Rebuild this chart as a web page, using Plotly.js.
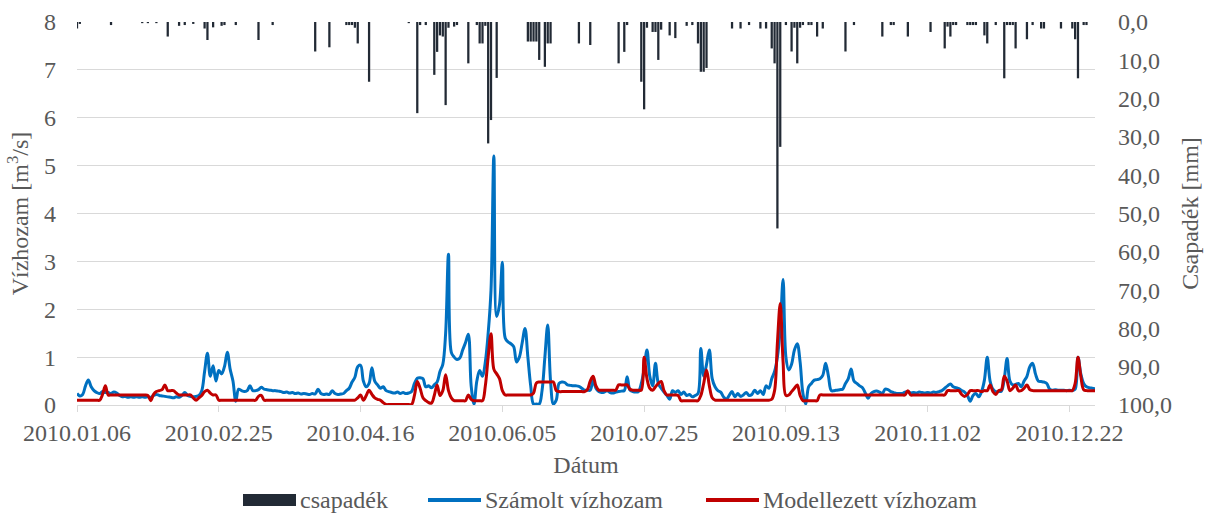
<!DOCTYPE html>
<html>
<head>
<meta charset="utf-8">
<script src="https://cdn.plot.ly/plotly-3.0.1.min.js"></script>
<style>
  html, body { margin: 0; padding: 0; background: #ffffff; font-family: 'Liberation Serif', serif; }
  #chart { width: 1210px; height: 513px; }
  #chart svg text { font-family: 'Liberation Serif', serif !important; }
</style>
</head>
<body>
<div id="chart"></div>
<script>
// Daily series, first day 2010.01.06, one value per day
const startDate = '2010-01-06';

// Csapadék [mm] (right axis, hanging bars)
const csapadek = [
  1.7,0.5,0,0,0,0,0,0,0,0,
  0,0,0.8,0,0,0,0,0,0,0,
  0,0,0,0.3,0,0.3,0,0,0.3,0,
  0,0,3.8,0,0,0,1.0,0,0.8,0,
  0,0.5,0,0,0,1.7,4.7,0,1.4,0,
  0,1.0,0.8,0,0,0,0.8,0,0,0,
  0,0,0,0,4.7,0,0,0,0,0.8,
  0,0,0,0,0,0,0,0,0,0,
  0,0,0,0,7.7,0,0,0,0,6.6,
  0,0,0,0,0,0.8,0.8,0.8,1.5,5.6,
  0,0,0,15.6,0,0,0,0,0,0,
  0,0,0,0,0,0,0,0.3,0,0,
  23.8,0.8,0,0.8,0,0,13.8,7.8,3.5,3.8,
  21.7,1.5,0,1.2,0.8,0,0,0,10.8,0,
  0,0.8,5.6,5.6,1.0,31.7,25.6,0,14.6,0,
  0,0,0,0,0,0,0,0,0,5.1,
  5.1,5.1,5.1,9.9,0,11.7,5.6,5.6,0,0,
  0,0,0,0,0,0,0,5.6,0,0,
  0,6.0,0,0,0,0,0,0,0,0,
  0,10.8,0,7.8,0.8,0,0,0,0,15.6,
  22.8,1.5,0,2.6,2.6,9.9,2.0,0,0,3.5,
  0,4.2,0,0,0,1.0,0,0.8,0,5.6,
  13.0,13.0,12.0,0,0,0,0,0,0,0,
  0,1.7,0,0,1.7,0,0,0.8,0,0,
  0,1.7,0,1.7,0,6.9,10.8,53.9,32.6,0,
  0.8,0,7.7,1.5,10.8,1.5,0.8,0,0.8,0.8,
  0,3.8,0,1.7,0,0,0,0,0,0,
  0,7.7,0,0,0.8,0,0,0,0,0,
  0,0,0,0,3.8,0,0,0.8,0.8,0,
  0,0,0,3.8,0,0,0,0,0,0,
  0,2.6,0,0,0,0,6.9,1.2,3.8,0.8,
  0.8,0,0,0,0.8,0.8,0.8,0.8,0,0,
  3.5,5.6,0,0,0.8,0,0,14.7,0.8,0.8,
  0.8,6.9,0,0,0,4.5,0,0.8,0,0,
  1.7,1.7,0,0,0,0,0,1.7,0,0,
  0,1.7,4.5,14.7,0,0.8,0.8,0,0,0
];

// Számolt vízhozam [m3/s]
const szamolt = [
  0.24,0.19,0.22,0.40,0.52,0.38,0.30,0.26,0.24,0.28,
  0.26,0.26,0.24,0.27,0.25,0.20,0.17,0.18,0.16,0.17,
  0.16,0.17,0.16,0.17,0.16,0.17,0.16,0.20,0.22,0.20,
  0.19,0.18,0.17,0.16,0.15,0.17,0.16,0.20,0.26,0.20,
  0.18,0.17,0.18,0.20,0.30,0.70,1.08,0.60,0.82,0.50,
  0.72,0.65,0.80,1.10,0.75,0.50,0.08,0.33,0.30,0.28,
  0.30,0.40,0.30,0.30,0.32,0.37,0.33,0.32,0.31,0.30,
  0.30,0.29,0.28,0.26,0.27,0.25,0.26,0.24,0.25,0.23,
  0.24,0.23,0.22,0.24,0.23,0.33,0.24,0.22,0.23,0.22,
  0.30,0.24,0.22,0.23,0.24,0.30,0.35,0.48,0.58,0.80,
  0.83,0.50,0.38,0.45,0.78,0.50,0.42,0.35,0.38,0.30,
  0.28,0.26,0.25,0.27,0.24,0.26,0.24,0.25,0.28,0.45,
  0.56,0.57,0.55,0.38,0.40,0.36,0.42,0.48,0.70,0.85,
  1.50,3.15,1.10,1.00,0.95,0.98,1.15,1.30,1.48,0.40,
  0.02,0.50,0.72,0.60,0.90,1.50,2.40,5.20,1.85,2.10,
  2.98,1.40,1.32,1.28,1.22,0.90,1.00,1.30,1.60,1.00,
  0.40,0.02,0.02,0.02,0.30,1.00,1.67,0.50,0.02,0.10,
  0.45,0.48,0.47,0.42,0.41,0.40,0.40,0.39,0.35,0.31,
  0.31,0.31,0.52,0.35,0.28,0.26,0.27,0.30,0.26,0.25,
  0.27,0.28,0.29,0.30,0.59,0.31,0.28,0.27,0.28,0.45,
  0.75,1.15,0.60,0.40,0.87,0.45,0.35,0.27,0.20,0.12,
  0.30,0.26,0.30,0.22,0.27,0.20,0.22,0.17,0.20,0.24,
  1.18,0.60,0.85,1.15,0.55,0.38,0.30,0.27,0.17,0.12,
  0.20,0.28,0.17,0.24,0.18,0.21,0.26,0.20,0.22,0.31,
  0.24,0.30,0.22,0.40,0.35,0.55,0.70,1.00,1.60,2.62,
  1.00,0.73,0.85,1.15,1.28,0.90,0.24,0.02,0.38,0.45,
  0.52,0.53,0.55,0.62,0.87,0.60,0.30,0.30,0.31,0.32,
  0.33,0.45,0.55,0.75,0.50,0.45,0.40,0.36,0.25,0.14,
  0.24,0.28,0.29,0.27,0.24,0.33,0.32,0.28,0.26,0.24,
  0.24,0.24,0.27,0.28,0.25,0.26,0.25,0.27,0.26,0.25,
  0.26,0.25,0.27,0.26,0.28,0.30,0.35,0.40,0.44,0.38,
  0.36,0.34,0.30,0.27,0.20,0.08,0.20,0.24,0.17,0.28,
  0.52,1.00,0.50,0.33,0.28,0.28,0.29,0.55,0.97,0.50,
  0.42,0.43,0.45,0.38,0.50,0.60,0.80,0.87,0.65,0.50,
  0.49,0.48,0.45,0.33,0.31,0.32,0.31,0.31,0.31,0.30,
  0.31,0.30,0.33,1.00,0.65,0.45,0.38,0.36,0.35,0.34
];

// Modellezett vízhozam [m3/s]
const modellezett = [
  0.10,0.10,0.10,0.10,0.10,0.10,0.10,0.10,0.10,0.22,
  0.40,0.21,0.21,0.21,0.21,0.21,0.21,0.21,0.21,0.21,
  0.21,0.21,0.21,0.21,0.21,0.20,0.09,0.22,0.28,0.30,
  0.32,0.42,0.30,0.30,0.30,0.25,0.21,0.21,0.21,0.21,
  0.21,0.15,0.10,0.15,0.20,0.28,0.31,0.25,0.21,0.21,
  0.10,0.10,0.10,0.10,0.10,0.10,0.10,0.10,0.10,0.10,
  0.10,0.10,0.10,0.10,0.18,0.20,0.10,0.10,0.10,0.10,
  0.10,0.10,0.10,0.10,0.10,0.10,0.10,0.10,0.10,0.10,
  0.10,0.10,0.10,0.10,0.10,0.10,0.10,0.10,0.10,0.10,
  0.10,0.10,0.10,0.10,0.10,0.10,0.10,0.10,0.10,0.15,
  0.21,0.10,0.20,0.31,0.22,0.15,0.12,0.10,0.05,0.01,
  0.01,0.01,0.01,0.01,0.01,0.01,0.01,0.01,0.01,0.20,
  0.49,0.35,0.15,0.09,0.05,0.04,0.20,0.42,0.20,0.30,
  0.63,0.30,0.15,0.09,0.09,0.09,0.09,0.09,0.21,0.12,
  0.09,0.09,0.09,0.09,0.40,1.00,1.49,0.75,0.65,0.55,
  0.30,0.21,0.21,0.21,0.21,0.21,0.21,0.21,0.21,0.21,
  0.21,0.25,0.46,0.48,0.48,0.48,0.48,0.48,0.48,0.30,
  0.28,0.28,0.28,0.28,0.28,0.28,0.28,0.28,0.28,0.28,
  0.32,0.50,0.60,0.40,0.31,0.31,0.31,0.31,0.31,0.31,
  0.31,0.42,0.42,0.42,0.42,0.33,0.31,0.31,0.31,0.31,
  1.00,0.55,0.35,0.31,0.38,0.45,0.49,0.30,0.21,0.21,
  0.21,0.21,0.20,0.09,0.09,0.09,0.09,0.09,0.09,0.09,
  0.20,0.45,0.73,0.40,0.15,0.10,0.10,0.10,0.10,0.10,
  0.10,0.10,0.10,0.10,0.10,0.10,0.10,0.10,0.10,0.10,
  0.10,0.10,0.10,0.10,0.10,0.12,0.30,1.30,2.12,0.90,
  0.20,0.21,0.28,0.35,0.42,0.20,0.09,0.09,0.09,0.09,
  0.09,0.09,0.21,0.21,0.21,0.21,0.21,0.21,0.21,0.21,
  0.21,0.21,0.21,0.21,0.21,0.21,0.21,0.21,0.21,0.21,
  0.21,0.21,0.21,0.21,0.21,0.21,0.21,0.21,0.21,0.21,
  0.21,0.21,0.21,0.30,0.21,0.21,0.21,0.21,0.21,0.21,
  0.21,0.21,0.21,0.21,0.21,0.21,0.21,0.30,0.30,0.30,
  0.30,0.30,0.22,0.18,0.22,0.30,0.30,0.30,0.30,0.28,
  0.30,0.30,0.42,0.28,0.22,0.30,0.32,0.60,0.50,0.30,
  0.35,0.42,0.30,0.30,0.35,0.42,0.32,0.30,0.30,0.30,
  0.30,0.30,0.30,0.30,0.30,0.30,0.30,0.30,0.30,0.30,
  0.30,0.30,0.45,1.00,0.60,0.32,0.30,0.30,0.30,0.30
];

// Legend labels
const seriesNames = ['csapadék', 'Számolt vízhozam', 'Modellezett vízhozam'];
const seriesColors = ['#222a35', '#0070c0', '#c00000'];

// Calendar days for the x axis
const days = [];
(function () {
  const t0 = Date.parse(startDate + 'T00:00:00Z');
  for (let i = 0; i < szamolt.length; i++) {
    const d = new Date(t0 + i * 86400000);
    days.push(d.toISOString().slice(0, 10));
  }
})();

const FONT = 'Liberation Serif';
const GREY = '#595959';
const GRID = '#d9d9d9';

const traces = [
  {
    type: 'bar', name: seriesNames[0], x: days, y: csapadek,
    yaxis: 'y2', marker: { color: seriesColors[0], line: { width: 0 } },
    hoverinfo: 'skip'
  },
  {
    type: 'scatter', mode: 'lines', name: seriesNames[1], x: days, y: szamolt,
    line: { color: seriesColors[1], width: 3, shape: 'spline', smoothing: 1 },
    hoverinfo: 'skip'
  },
  {
    type: 'scatter', mode: 'lines', name: seriesNames[2], x: days, y: modellezett,
    line: { color: seriesColors[2], width: 3, shape: 'spline', smoothing: 1 },
    hoverinfo: 'skip'
  }
];

// plot frame in pixels: left 77, right 1095, top 22, bottom 405
const L = 77, R = 1095, T = 22, B = 405;
const px = v => (v - L) / (R - L);
const py = v => (B - v) / (B - T);

// hand-placed legend row under the axis title
const legY = 500;
const shapes = [
  { type: 'rect', xref: 'paper', yref: 'paper', x0: px(243), x1: px(296), y0: py(506), y1: py(494),
    fillcolor: seriesColors[0], line: { width: 0 } },
  { type: 'line', xref: 'paper', yref: 'paper', x0: px(428), x1: px(481), y0: py(legY), y1: py(legY),
    line: { color: seriesColors[1], width: 4 } },
  { type: 'line', xref: 'paper', yref: 'paper', x0: px(706), x1: px(759), y0: py(legY), y1: py(legY),
    line: { color: seriesColors[2], width: 4 } }
];
const legendText = [
  { text: seriesNames[0], x: 298 },
  { text: seriesNames[1], x: 483 },
  { text: seriesNames[2], x: 761 }
];
const annotations = legendText.map(o => ({
  xref: 'paper', yref: 'paper', x: px(o.x), y: py(legY), xanchor: 'left', yanchor: 'middle',
  text: o.text, showarrow: false, font: { family: FONT, size: 24, color: GREY }
}));

const layout = {
  width: 1210, height: 513,
  margin: { l: L, r: 1210 - R, t: T, b: 513 - B, pad: 0 },
  paper_bgcolor: '#ffffff', plot_bgcolor: '#ffffff',
  font: { family: FONT, size: 24, color: GREY },
  separators: ', ',
  showlegend: false,
  bargap: 0.2,
  xaxis: {
    type: 'date',
    range: ['2010-01-06', '2010-12-31'],
    tick0: '2010-01-06', dtick: 50 * 86400000,
    tickformat: '%Y.%m.%d',
    ticks: 'outside', ticklen: 6, tickcolor: GRID, tickwidth: 1,
    showline: true, linecolor: GRID, linewidth: 1,
    showgrid: false, zeroline: false,
    tickfont: { family: FONT, size: 24, color: GREY },
    title: { text: 'Dátum', font: { family: FONT, size: 24, color: GREY }, standoff: 11 }
  },
  yaxis: {
    range: [0, 8], tick0: 0, dtick: 1,
    showgrid: true, gridcolor: GRID, gridwidth: 1,
    zeroline: false, showline: false, ticks: '',
    ticklabelstandoff: 20,
    tickfont: { family: FONT, size: 24, color: GREY },
    title: { text: 'Vízhozam [m<sup>3</sup>/s]', font: { family: FONT, size: 24, color: GREY }, standoff: 8 }
  },
  yaxis2: {
    overlaying: 'y', side: 'right',
    range: [100, 0], tick0: 0, dtick: 10, tickformat: '.1f',
    showgrid: false, zeroline: false, showline: false, ticks: '',
    ticklabelstandoff: 22,
    tickfont: { family: FONT, size: 24, color: GREY },
    title: { text: 'Csapadék [mm]', font: { family: FONT, size: 24, color: GREY }, standoff: 10 }
  },
  shapes: shapes,
  annotations: annotations
};

Plotly.newPlot('chart', traces, layout, { staticPlot: true, displayModeBar: false });
</script>
</body>
</html>
